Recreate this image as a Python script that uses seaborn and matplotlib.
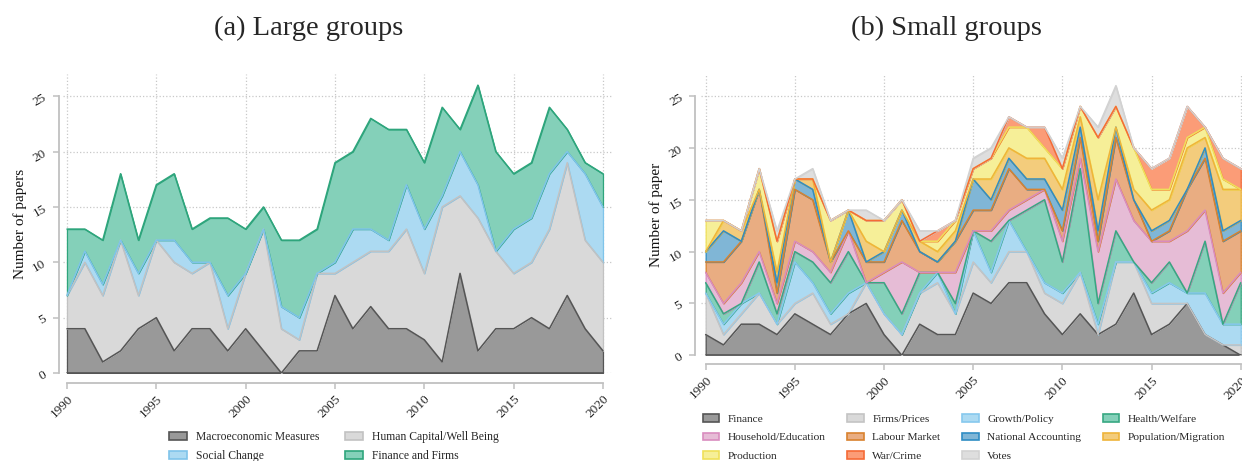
import numpy as np
import pandas as pd
import seaborn as sns
import matplotlib.pyplot as plt
from matplotlib.patches import Patch

years = list(range(1990, 2021))

# (a) large groups, papers per year
macro = [4, 4, 1, 2, 4, 5, 2, 4, 4, 2, 4, 2, 0, 2, 2, 7, 4, 6, 4, 4, 3, 1, 9, 2, 4, 4, 5, 4, 7, 4, 2]
human = [3, 6, 6, 10, 3, 7, 8, 5, 6, 2, 5, 11, 4, 1, 7, 2, 6, 5, 7, 9, 6, 14, 7, 12, 7, 5, 5, 9, 12, 8, 8]
social = [0, 1, 1, 0, 2, 0, 2, 1, 0, 3, 0, 0, 2, 2, 0, 1, 3, 2, 1, 4, 4, 1, 4, 3, 0, 4, 4, 5, 1, 6, 5]
fin_firms = [6, 2, 4, 6, 3, 5, 6, 3, 4, 7, 4, 2, 6, 7, 4, 9, 7, 10, 10, 5, 6, 8, 2, 9, 9, 5, 5, 6, 2, 1, 3]

large_labels = ['Macroeconomic Measures', 'Human Capital/Well Being', 'Social Change', 'Finance and Firms']
large_face = ['#999999', '#d9d9d9', '#acdaf2', '#84d0b9']
large_edge = ['#555555', '#c2c2c2', '#7fc4ea', '#2ea57c']

# (b) small groups, papers per year
finance = [2, 1, 3, 3, 2, 4, 3, 2, 4, 5, 2, 0, 3, 2, 2, 6, 5, 7, 7, 4, 2, 4, 2, 3, 6, 2, 3, 5, 2, 1, 0]
firms = [4, 1, 1, 3, 1, 1, 3, 1, 0, 2, 2, 2, 3, 5, 2, 3, 2, 3, 3, 2, 3, 4, 0, 6, 3, 3, 2, 0, 0, 0, 1]
growth = [0, 1, 1, 0, 0, 4, 1, 1, 2, 0, 0, 0, 0, 1, 0, 3, 1, 3, 0, 1, 1, 0, 1, 0, 0, 1, 2, 1, 4, 2, 2]
health = [1, 1, 0, 3, 1, 1, 2, 3, 4, 0, 3, 2, 2, 0, 1, 0, 3, 0, 4, 8, 3, 10, 2, 3, 0, 1, 2, 0, 5, 0, 4]
household = [1, 1, 2, 1, 1, 1, 1, 1, 2, 0, 1, 5, 0, 0, 3, 0, 1, 1, 1, 1, 2, 1, 5, 5, 4, 4, 2, 6, 3, 3, 1]
labour = [1, 4, 4, 6, 1, 5, 5, 1, 0, 2, 1, 4, 2, 1, 3, 2, 2, 4, 1, 0, 1, 2, 1, 4, 2, 0, 1, 4, 5, 5, 4]
natacc = [1, 3, 0, 0, 1, 1, 1, 0, 2, 0, 1, 1, 0, 0, 0, 3, 1, 1, 1, 1, 2, 1, 1, 1, 0, 1, 1, 0, 1, 1, 1]
population = [0, 1, 1, 0, 1, 0, 1, 0, 0, 2, 0, 0, 1, 1, 1, 0, 2, 1, 2, 2, 2, 1, 3, 0, 1, 2, 2, 4, 1, 4, 3]
production = [3, 0, 0, 2, 3, 0, 0, 4, 0, 2, 3, 1, 0, 1, 1, 1, 2, 2, 3, 1, 2, 1, 6, 2, 4, 2, 1, 1, 1, 1, 0]
war = [0, 0, 0, 0, 0, 0, 0, 0, 0, 0, 0, 0, 0, 1, 0, 0, 0, 1, 0, 2, 0, 0, 0, 0, 0, 2, 3, 3, 0, 2, 2]
votes = [0, 0, 0, 0, 1, 0, 1, 0, 0, 1, 0, 0, 1, 0, 0, 1, 1, 0, 0, 0, 1, 0, 1, 2, 0, 0, 0, 0, 0, 0, 0]

small_labels = ['Finance', 'Firms/Prices', 'Growth/Policy', 'Health/Welfare', 'Household/Education',
                'Labour Market', 'National Accounting', 'Population/Migration', 'Production',
                'War/Crime', 'Votes']
small_face = ['#999999', '#d9d9d9', '#acdaf2', '#84d0b9', '#e6bcd6', '#e9ad82',
              '#80b6d6', '#f3cc7c', '#f6ef98', '#fb9c77', '#dedede']
small_edge = ['#555555', '#c4c4c4', '#86c8ee', '#37a882', '#d98cbf', '#d9822e',
              '#2f8dc4', '#efb43a', '#efe05a', '#f56a36', '#d2d2d2']

sns.set_theme(style='white')
plt.rcParams['font.family'] = ['Liberation Serif', 'DejaVu Serif']

fig = plt.figure(figsize=(12.42, 4.61), dpi=100)


def area_panel(rect, series, faces, edges, xpad, ypad_pt, ylabel):
    ax = fig.add_axes(rect)
    polys = ax.stackplot(years, *series, colors=faces, linewidth=0.9)
    for p, ec in zip(polys, edges):
        p.set_edgecolor(ec)
    cum = np.cumsum(np.array(series), axis=0)
    df = pd.DataFrame({'year': years})
    for i, ec in enumerate(edges):
        df['top'] = cum[i]
        sns.lineplot(data=df, x='year', y='top', color=ec, linewidth=1.1, ax=ax)
    ax.plot([years[0], years[-1]], [0, 0], color=edges[0], lw=1.2)

    ax.set_ylim(0, 27)
    ax.set_yticks(range(0, 26, 5))
    ax.set_xticks(range(1990, 2021, 5))
    ax.grid(True, color='#c8c8c8', linestyle=':', linewidth=0.9)
    ax.set_axisbelow(True)
    for s in ['top', 'right']:
        ax.spines[s].set_visible(False)
    for s in ['left', 'bottom']:
        ax.spines[s].set_color('#c0c0c0')
        ax.spines[s].set_linewidth(1.3)
    ax.spines['left'].set_position(('outward', xpad))
    ax.spines['bottom'].set_position(('outward', ypad_pt))
    ax.spines['left'].set_bounds(0, 25)
    ax.spines['bottom'].set_bounds(1990, 2020)
    ax.tick_params(axis='both', which='major', length=4, width=1.1, color='#c0c0c0',
                   labelsize=9.5, labelcolor='#222222', direction='out', left=True, bottom=True)
    plt.setp(ax.get_yticklabels(), rotation=30)
    plt.setp(ax.get_xticklabels(), rotation=45, ha='right', rotation_mode='anchor')
    ax.set_xlabel('')
    ax.set_ylabel(ylabel, fontsize=11, color='#111111', labelpad=3)
    return ax


ax1 = area_panel([63.4 / 1242, 1 - 373 / 461, 548.5 / 1242, 298.9 / 461],
                 [macro, human, social, fin_firms], large_face, large_edge,
                 3.4, 7.0, 'Number of papers')
ax1.set_xlim(1989.8, 2020.5)

ax2 = area_panel([701.2 / 1242, 1 - 355.3 / 461, 540.4 / 1242, 280.0 / 461],
                 [finance, firms, growth, health, household, labour, natacc,
                  population, production, war, votes], small_face, small_edge,
                 4.3, 6.3, 'Number of paper')
ax2.set_xlim(1989.75, 2020.05)

fig.text(309 / 1242, 1 - 28 / 461, '(a) Large groups', ha='center', va='center', fontsize=20.5)
fig.text(946 / 1242, 1 - 28 / 461, '(b) Small groups', ha='center', va='center', fontsize=20.5)

h1 = [Patch(facecolor=f, edgecolor=e, linewidth=1.2, label=l)
      for f, e, l in zip(large_face, large_edge, large_labels)]
order1 = [0, 2, 1, 3]
fig.legend(handles=[h1[i] for i in order1], loc='center',
           bbox_to_anchor=(334 / 1242, 1 - 446.5 / 461), ncol=2, frameon=False,
           fontsize=8.4, handlelength=1.55, handleheight=0.65, columnspacing=2.2,
           labelspacing=0.6, handletextpad=0.75)

h2 = [Patch(facecolor=f, edgecolor=e, linewidth=1.2, label=l)
      for f, e, l in zip(small_face, small_edge, small_labels)]
order2 = [0, 4, 8, 1, 5, 9, 2, 6, 10, 3, 7]
fig.legend(handles=[h2[i] for i in order2], loc='center',
           bbox_to_anchor=(964 / 1242, 1 - 437.5 / 461), ncol=4, frameon=False,
           fontsize=8.2, handlelength=1.45, handleheight=0.65, columnspacing=1.9,
           labelspacing=0.75, handletextpad=0.75)

fig.savefig('out.png', dpi=100)
